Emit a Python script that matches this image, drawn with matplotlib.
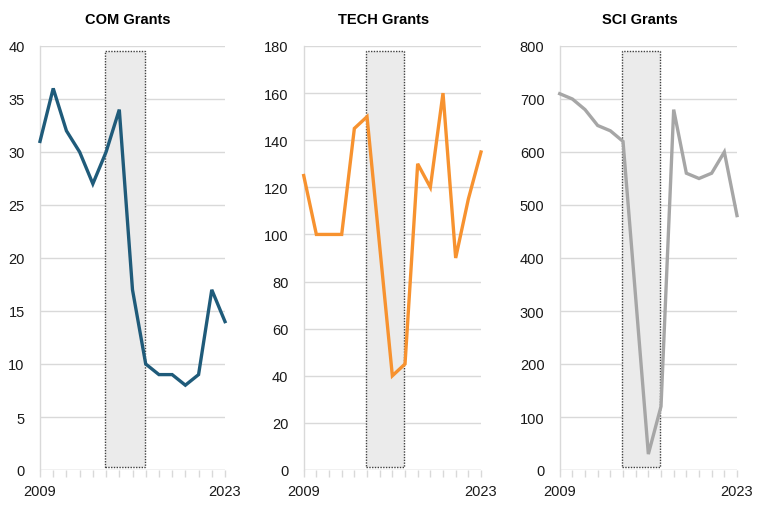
import matplotlib.pyplot as plt
import matplotlib.transforms as mtransforms

# ---------- data ----------
years = list(range(2009, 2024))
com = [31, 36, 32, 30, 27, 30, 34, 17, 10, 9, 9, 8, 9, 17, 14]
tech = [125, 100, 100, 100, 145, 150, 95, 40, 45, 130, 120, 160, 90, 115, 135]
sci = [710, 700, 680, 650, 640, 620, 325, 30, 120, 680, 560, 550, 560, 600, 480]

titles = ["COM Grants", "TECH Grants", "SCI Grants"]
series = [com, tech, sci]
colors = ["#1F5B7A", "#F7922F", "#A6A6A6"]
ylims = [40, 180, 800]
ysteps = [5, 20, 100]
shade_span = (2013.9, 2016.95)

plt.rcParams['font.family'] = 'Liberation Sans'

fig = plt.figure(figsize=(7.68, 5.10), dpi=100)

# axes boxes in figure fractions (left, width)
boxes = [(40 / 768, 185 / 768), (303.7 / 768, 177.3 / 768), (559.7 / 768, 177.3 / 768)]
bottom = 1 - 471 / 510
height = (471 - 47) / 510
title_x = [128 / 768, 384 / 768, 640 / 768]

for i in range(3):
    ax = fig.add_axes([boxes[i][0], bottom, boxes[i][1], height])

    # shaded period, y in axes fraction
    trans = mtransforms.blended_transform_factory(ax.transData, ax.transAxes)
    rect = plt.Rectangle((shade_span[0], 0.008), shade_span[1] - shade_span[0], 0.981,
                         transform=trans, facecolor="#EBEBEB", edgecolor="#404040",
                         linestyle=(0, (1, 1)), linewidth=1.0, zorder=1)
    ax.add_patch(rect)

    ax.plot(years, series[i], color=colors[i], linewidth=2.4, zorder=3,
            solid_joinstyle='miter', clip_on=False)

    ax.set_xlim(2009, 2023)
    ax.set_ylim(0, ylims[i])
    ax.set_yticks(range(0, ylims[i] + 1, ysteps[i]))
    ax.set_xticks(years)
    ax.set_xticklabels([str(y) if y in (2009, 2023) else "" for y in years])

    ax.grid(axis='y', color="#D9D9D9", linewidth=1.0, zorder=0)
    ax.set_axisbelow(True)
    for s in ['top', 'right', 'bottom']:
        ax.spines[s].set_visible(False)
    ax.spines['left'].set_color("#D9D9D9")
    ax.spines['left'].set_linewidth(1.0)
    ax.axhline(0, color="#D9D9D9", linewidth=1.0, zorder=0)

    ax.tick_params(axis='y', length=0, pad=11, labelsize=10.5, labelcolor="#1A1A1A")
    ax.tick_params(axis='x', length=5, width=1, color="#D9D9D9", pad=5,
                   labelsize=10.5, labelcolor="#1A1A1A")

    fig.text(title_x[i], 1 - 20 / 510, titles[i], ha='center', va='center',
             fontsize=10.5, fontweight='bold')

fig.savefig("out.png", dpi=100)
